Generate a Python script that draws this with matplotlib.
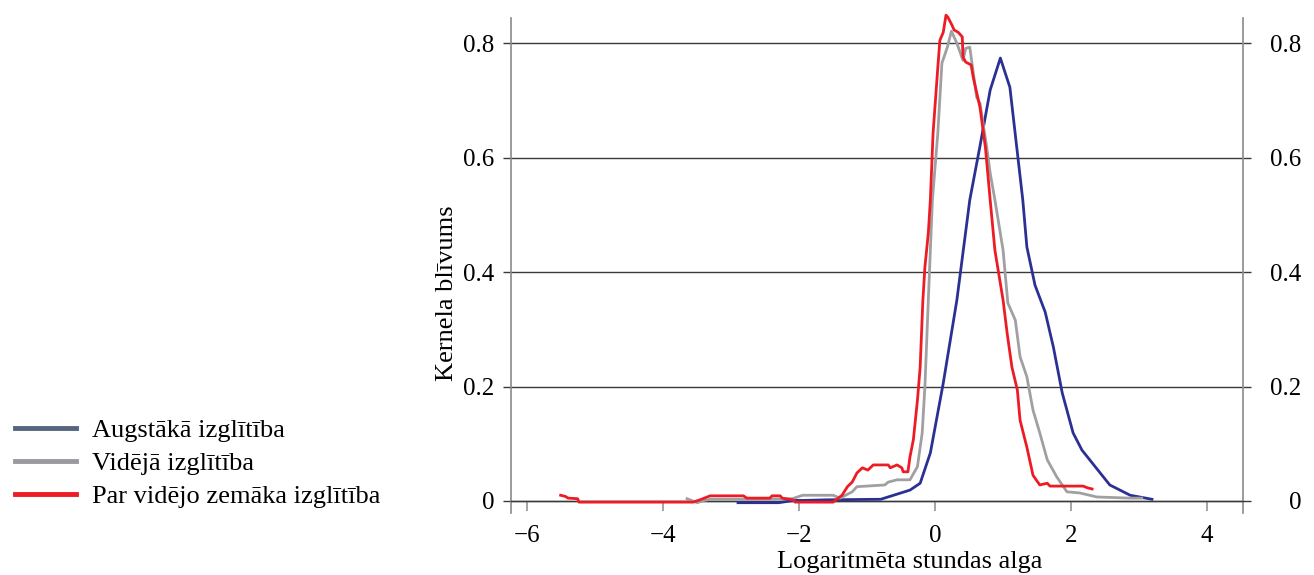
import numpy as np
import matplotlib.pyplot as plt
from matplotlib.lines import Line2D
from matplotlib.transforms import ScaledTranslation

plt.rcParams['font.family'] = ['Liberation Serif', 'DejaVu Serif']
plt.rcParams['axes.unicode_minus'] = True

# Augstākā izglītība
x_aug = [-2.9, -2.3, -2.08, -1.94, -1.6, -0.8, -0.37, -0.22, -0.07, 0.12, 0.32, 0.51, 0.66,
         0.81, 0.96, 1.10, 1.29, 1.35, 1.47, 1.62, 1.74, 1.87, 2.03, 2.16, 2.57, 2.87, 3.19]
y_aug = [-0.003, -0.003, 0.001, 0.001, 0.002, 0.003, 0.019, 0.031, 0.084, 0.206, 0.351, 0.526, 0.62,
         0.718, 0.774, 0.723, 0.526, 0.444, 0.377, 0.330, 0.269, 0.189, 0.119, 0.089, 0.028, 0.010, 0.003]

# Vidējā izglītība
x_vid = [-3.65, -3.5, -3.4, -3.3, -2.6, -2.1, -1.95, -1.65, -1.5, -1.4, -1.22, -1.15, -0.74, -0.69,
         -0.56, -0.37, -0.26, -0.19, -0.15, -0.10, -0.04, 0.04, 0.10, 0.18, 0.24, 0.32, 0.41,
         0.45, 0.51, 0.54, 0.61, 0.66, 0.76, 0.81, 0.88, 1.0, 1.07, 1.18, 1.25, 1.35, 1.44,
         1.54, 1.65, 1.79, 1.94, 2.13, 2.38, 2.87, 3.04]
y_vid = [0.004, -0.003, 0.001, 0.003, 0.003, 0.004, 0.01, 0.01, 0.01, 0.005, 0.016, 0.025, 0.028, 0.033,
         0.037, 0.037, 0.06, 0.119, 0.2, 0.351, 0.526, 0.643, 0.765, 0.793, 0.821, 0.80, 0.770,
         0.791, 0.793, 0.767, 0.706, 0.695, 0.618, 0.573, 0.526, 0.438, 0.346, 0.316, 0.252, 0.217, 0.159,
         0.119, 0.072, 0.042, 0.016, 0.014, 0.007, 0.005, 0.005]

# Par vidējo zemāka izglītība
x_zem = [-5.51, -5.44, -5.4, -5.26, -5.24, -3.56, -3.46, -3.31, -2.82, -2.77, -2.43, -2.40, -2.28,
         -2.25, -2.09, -2.06, -1.5, -1.37, -1.29, -1.22, -1.15, -1.07, -0.99, -0.91, -0.69, -0.66,
         -0.56, -0.49, -0.47, -0.40, -0.37, -0.32, -0.26, -0.22, -0.18, -0.15, -0.10, -0.07, -0.03,
         0.04, 0.07, 0.12, 0.16, 0.19, 0.25, 0.28, 0.34, 0.40, 0.41, 0.45, 0.53, 0.56, 0.66, 0.74,
         0.81, 0.88, 1.0, 1.06, 1.13, 1.21, 1.25, 1.35, 1.44, 1.54, 1.65, 1.69, 2.18, 2.24, 2.31]
y_zem = [0.01, 0.008, 0.005, 0.004, -0.002, -0.002, 0.002, 0.009, 0.009, 0.005, 0.005, 0.009, 0.009,
         0.005, 0.002, -0.002, -0.002, 0.01, 0.025, 0.033, 0.049, 0.058, 0.054, 0.063, 0.063, 0.058,
         0.063, 0.058, 0.051, 0.051, 0.077, 0.107, 0.176, 0.234, 0.351, 0.409, 0.468, 0.526, 0.643,
         0.758, 0.805, 0.819, 0.849, 0.845, 0.831, 0.823, 0.819, 0.811, 0.776, 0.767, 0.762, 0.741, 0.688, 0.618,
         0.526, 0.438, 0.351, 0.293, 0.234, 0.194, 0.141, 0.094, 0.045, 0.028, 0.031, 0.026, 0.026, 0.023, 0.021]

labels = ['Augstākā izglītība', 'Vidējā izglītība', 'Par vidējo zemāka izglītība']
line_colors = ['#2b3192', '#a0a0a3', '#ed1c24']
legend_colors = ['#56657e', '#9a9a9e', '#ed1c24']
yticks = [0, 0.2, 0.4, 0.6, 0.8]
ytick_labels = ['0', '0.2', '0.4', '0.6', '0.8']
xticks = [-6, -4, -2, 0, 2, 4]
xtick_labels = ['\u22126', '\u22124', '\u22122', '0', '2', '4']

fig = plt.figure(figsize=(13.14, 5.75), dpi=100)
ax = fig.add_axes([511/1314, 1-513/575, 732/1314, 495/575])

# horizontale Gitterlinien
for g in yticks:
    ax.axhline(g, color='#3a3a3a', lw=1.0, zorder=1)

for xs, ys, c in zip([x_aug, x_vid, x_zem], [y_aug, y_vid, y_zem], line_colors):
    ax.plot(xs, ys, color=c, lw=2.0, zorder=3, clip_on=False)

ax.set_xlim(-6.24, 4.53)
ax.set_ylim(-0.021, 0.844)

for s in ['left', 'right']:
    ax.spines[s].set_color('#8a8a8a')
    ax.spines[s].set_linewidth(1.2)
ax.spines['top'].set_visible(False)
ax.spines['bottom'].set_position(('data', 0))
ax.spines['bottom'].set_color('#3a3a3a')
ax.spines['bottom'].set_linewidth(1.0)

ax.set_xticks(xticks)
ax.set_xticklabels(xtick_labels)
ax.tick_params(axis='x', direction='out', length=7, width=1.1, color='#8a8a8a',
               labelsize=18, pad=10)

ax.set_yticks(yticks)
ax.set_yticklabels(ytick_labels)
ax.tick_params(axis='y', left=True, right=True, labelleft=True, labelright=True,
               direction='out', length=6, width=1.0, color='#3a3a3a', labelsize=18, pad=6)
# rechte Beschriftung rechtsbündig
for t in ax.yaxis.get_major_ticks():
    t.label2.set_horizontalalignment('right')
    t.label2.set_transform(t.label2.get_transform() + ScaledTranslation(42/100, 0, fig.dpi_scale_trans))

fig.text(910/1314, 1-562/575, 'Logaritmēta stundas alga', fontsize=19, ha='center', va='center')
fig.text(447/1314, 1-293/575, 'Kernela blīvums', fontsize=19, ha='center', va='center', rotation=90)

handles = [Line2D([], [], color=c, lw=3.5) for c in legend_colors]
fig.legend(handles, labels, loc='upper left', bbox_to_anchor=(15/1314, 1-419/575),
           frameon=False, fontsize=19, handlelength=2.3, handletextpad=0.6,
           labelspacing=0.36, borderpad=0, borderaxespad=0)

fig.savefig('out.png', dpi=100)
